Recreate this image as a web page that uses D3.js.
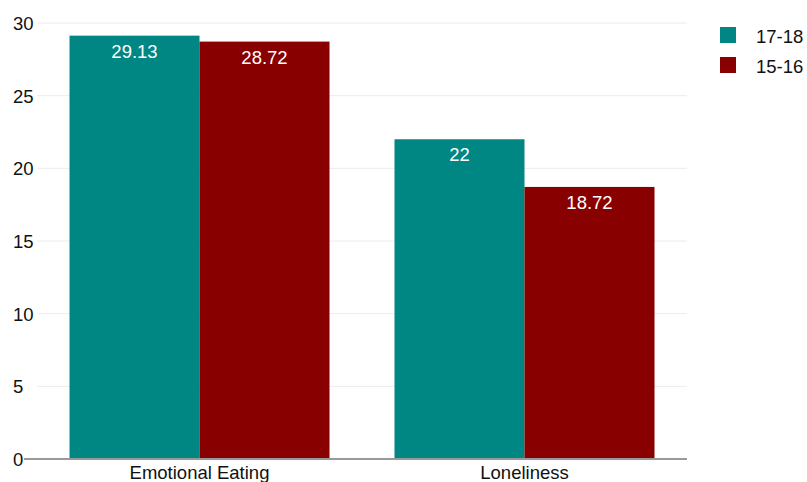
<!DOCTYPE html>
<html>
<head>
<meta charset="utf-8">
<script src="https://cdn.jsdelivr.net/npm/d3@7"></script>
<style>
  body { margin: 0; background: #fff; }
  svg { font-family: "Liberation Sans", Arial, sans-serif; }
</style>
</head>
<body>
<div id="chart"></div>
<script>
// Bar chart: two age groups per category
const categories = ['Emotional Eating', 'Loneliness'];
const seriesNames = ['17-18', '15-16'];
const values1718 = [29.13, 22];
const values1516 = [28.72, 18.72];
const yTicks = [0, 5, 10, 15, 20, 25, 30];

const colors = { '17-18': '#008683', '15-16': '#880000' };
const fs = 18.5;

const width = 807, height = 482;
const svg = d3.select('#chart').append('svg')
  .attr('width', width).attr('height', height);

const rows = categories.map((c, i) => ({ cat: c, '17-18': values1718[i], '15-16': values1516[i] }));

const x0 = d3.scaleBand().domain(categories).range([37, 687]).paddingInner(0.2).paddingOuter(0.1);
const x1 = d3.scaleBand().domain(seriesNames).range([0, x0.bandwidth()]);
const y = d3.scaleLinear().domain([0, 30]).range([459, 23]);

// gridlines
svg.append('g').selectAll('line').data(yTicks.filter(t => t > 0)).join('line')
  .attr('x1', 37).attr('x2', 687)
  .attr('y1', d => y(d)).attr('y2', d => y(d))
  .attr('stroke', '#ececec').attr('stroke-width', 1);

// y tick labels (left-aligned like the original)
svg.append('g').selectAll('text').data(yTicks).join('text')
  .attr('x', 13).attr('y', d => y(d) + 7)
  .attr('font-size', fs).attr('fill', '#111')
  .text(d => d);

// bars
const groups = svg.append('g').selectAll('g').data(rows).join('g')
  .attr('transform', d => `translate(${x0(d.cat)},0)`);

groups.selectAll('rect').data(d => seriesNames.map(s => ({ s, v: d[s] }))).join('rect')
  .attr('x', d => x1(d.s)).attr('width', x1.bandwidth())
  .attr('y', d => y(d.v)).attr('height', d => y(0) - y(d.v))
  .attr('fill', d => colors[d.s]);

groups.selectAll('text').data(d => seriesNames.map(s => ({ s, v: d[s] }))).join('text')
  .attr('x', d => x1(d.s) + x1.bandwidth() / 2)
  .attr('y', d => y(d.v) + 22)
  .attr('text-anchor', 'middle')
  .attr('font-size', fs).attr('fill', '#fff')
  .text(d => d.v);

// x axis baseline
svg.append('line')
  .attr('x1', 24).attr('x2', 687)
  .attr('y1', y(0)).attr('y2', y(0))
  .attr('stroke', '#999').attr('stroke-width', 2);

// category labels
svg.append('g').selectAll('text').data(categories).join('text')
  .attr('x', d => x0(d) + x0.bandwidth() / 2)
  .attr('y', 479)
  .attr('text-anchor', 'middle')
  .attr('font-size', fs).attr('fill', '#111')
  .text(d => d);

// legend
const legend = svg.append('g').selectAll('g').data(seriesNames).join('g')
  .attr('transform', (d, i) => `translate(720,${27 + i * 30})`);
legend.append('rect').attr('width', 16).attr('height', 16).attr('fill', d => colors[d]);
legend.append('text').attr('x', 36).attr('y', 16)
  .attr('font-size', fs).attr('fill', '#111')
  .text(d => d);
</script>
</body>
</html>
